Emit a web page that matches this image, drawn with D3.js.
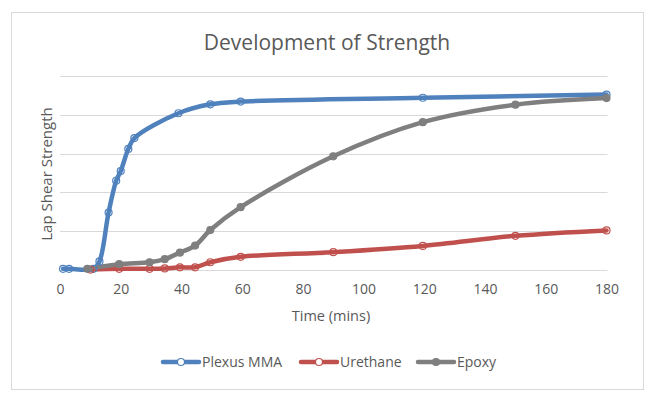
<!DOCTYPE html>
<html><head><meta charset="utf-8">
<script src="https://cdn.jsdelivr.net/npm/d3@7"></script>
<style>body{margin:0;background:#fff}svg{display:block}text{font-family:"Open Sans",sans-serif;fill:#595959}</style>
</head><body>
<svg id="c" width="656" height="402"></svg>
<script>
const seriesNames = ["Plexus MMA", "Urethane", "Epoxy"];
const plexusTime = [1, 3, 11, 13, 16, 18.5, 20, 22.5, 24.5, 39, 49.5, 59.5, 119.5, 180];
const plexusValue = [0.03, 0.03, 0.03, 0.22, 1.48, 2.3, 2.55, 3.12, 3.4, 4.04, 4.27, 4.34, 4.44, 4.52];
const urethaneTime = [10, 19.5, 29.5, 34.5, 39.5, 44.5, 49.5, 59.5, 90, 119.5, 150, 180];
const urethaneValue = [0.01, 0.03, 0.03, 0.04, 0.07, 0.07, 0.2, 0.34, 0.46, 0.62, 0.88, 1.02];
const epoxyTime = [9, 19.5, 29.5, 34.5, 39.5, 44.5, 49.5, 59.5, 90, 119.5, 150, 180];
const epoxyValue = [0.03, 0.15, 0.2, 0.28, 0.45, 0.63, 1.03, 1.62, 2.93, 3.81, 4.26, 4.43];
const xTicks = [0, 20, 40, 60, 80, 100, 120, 140, 160, 180];
const yGrid = [0, 1, 2, 3, 4, 5];

const colors = ["#4F81BD", "#C0504D", "#7F7F7F"];
const filled = [false, false, true];
const series = [
  plexusTime.map((t, i) => [t, plexusValue[i]]),
  urethaneTime.map((t, i) => [t, urethaneValue[i]]),
  epoxyTime.map((t, i) => [t, epoxyValue[i]])
];

const svg = d3.select("#c");
const x = d3.scaleLinear().domain([0, 180]).range([60, 606.5]);
const y = d3.scaleLinear().domain([0, 5]).range([270, 76]);

svg.append("rect").attr("x", 11.5).attr("y", 12.5).attr("width", 632).attr("height", 377)
  .attr("fill", "#fff").attr("stroke", "#D9D9D9");

svg.append("text").attr("x", 327).attr("y", 50).attr("text-anchor", "middle")
  .style("font-size", "21px").text("Development of Strength");

svg.append("g").selectAll("line").data(yGrid).join("line")
  .attr("x1", x(0)).attr("x2", x(180) + 1)
  .attr("y1", d => Math.round(y(d)) + 0.5).attr("y2", d => Math.round(y(d)) + 0.5)
  .attr("stroke", "#D9D9D9");

const xAxis = svg.append("g").attr("transform", "translate(0,270)")
  .call(d3.axisBottom(x).tickValues(xTicks).tickSize(0).tickPadding(14));
xAxis.select(".domain").remove();
xAxis.selectAll("text").style("font-size", "14px").style("fill", "#595959").style("font-family", '"Open Sans",sans-serif');

svg.append("text").attr("x", 331).attr("y", 321).attr("text-anchor", "middle")
  .style("font-size", "14.5px").text("Time (mins)");
svg.append("text").attr("transform", "translate(52,174) rotate(-90)").attr("text-anchor", "middle")
  .style("font-size", "15px").text("Lap Shear Strength");

const line = d3.line().x(d => x(d[0])).y(d => y(d[1])).curve(d3.curveCatmullRom.alpha(0.5));
series.forEach((s, i) => {
  svg.append("path").attr("d", line(s)).attr("fill", "none").attr("stroke", colors[i])
    .attr("stroke-width", 4.5).attr("stroke-linejoin", "round").attr("stroke-linecap", "round");
});
series.forEach((s, i) => {
  svg.append("g").selectAll("circle").data(s).join("circle")
    .attr("cx", d => x(d[0])).attr("cy", d => y(d[1])).attr("r", 3.5)
    .attr("fill", filled[i] ? colors[i] : "#fff").attr("fill-opacity", filled[i] ? 1 : 0.0)
    .attr("stroke", colors[i]).attr("stroke-width", 1.2);
});

const legX = [163, 301, 418];
const lg = svg.append("g");
seriesNames.forEach((n, i) => {
  const g = lg.append("g").attr("transform", `translate(${legX[i]},362)`);
  g.append("line").attr("x1", 0).attr("x2", 36).attr("stroke", colors[i]).attr("stroke-width", 4.5).attr("stroke-linecap", "round");
  g.append("circle").attr("cx", 18).attr("cy", 0).attr("r", 3.5).attr("fill", filled[i] ? colors[i] : "#fff")
    .attr("stroke", colors[i]).attr("stroke-width", 1.2);
  g.append("text").attr("x", 39).attr("y", 5).style("font-size", "14px").text(n);
});
</script>
</body></html>
